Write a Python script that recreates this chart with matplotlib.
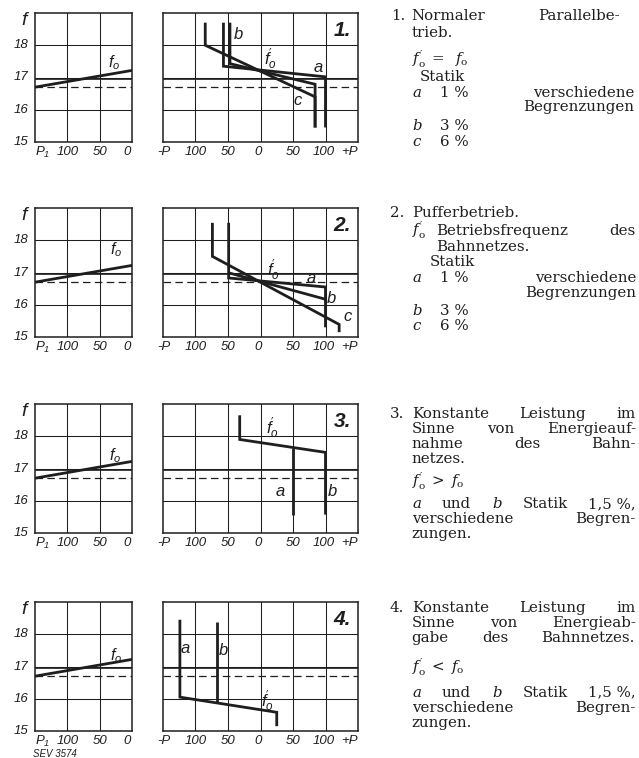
import matplotlib
matplotlib.use("Agg")
import matplotlib.pyplot as plt
import matplotlib.transforms as mtransforms

W, H = 639, 758

plt.rcParams['mathtext.fontset'] = 'custom'
plt.rcParams['mathtext.rm'] = 'DejaVu Serif'
plt.rcParams['mathtext.it'] = 'DejaVu Serif:italic'
plt.rcParams['mathtext.sf'] = 'Liberation Sans:italic'

ink = '#1e1e1e'

# ---- axes values ----
f_grid = [16, 17, 18]
f_ticks = [15, 16, 17, 18]
f_nom = 16.7          # 16 2/3 Hz, dashed

p1_ticks = [150, 100, 50, 0]
p1_labels = [r'$\mathsf{P}_{\mathsf{1}}$', '100', '50', '0']
p_ticks = [-150, -100, -50, 0, 50, 100, 150]
p_labels = ['-P', '100', '50', '0', '50', '100', '+P']

# generator frequency f0 over P1 (same in all four cases)
f0_p1 = [150, 0]
f0_f = [16.7, 17.22]
f0_label = [(28, 17.46), (24, 17.7), (26, 17.39), (24, 17.35)]

# f0' characteristics as (P, f) polylines
case1_p = [[-57, -57, 100, 100], [-47, -47, 84, 84], [-85, -85, 84, 84]]
case1_f = [[18.7, 17.35, 17.02, 15.45], [18.7, 17.43, 16.79, 15.45], [18.7, 18.0, 16.4, 15.45]]
case2_p = [[-49, -49, 100, 100], [-49, 100], [-74, -74, 121, 121]]
case2_f = [[18.54, 16.83, 16.55, 15.3], [16.99, 16.17], [18.54, 17.5, 15.39, 15.15]]
case3_p = [[-32, -32, 100, 100], [50, 50]]
case3_f = [[18.65, 17.9, 17.5, 15.57], [17.65, 15.57]]
case4_p = [[-124, -124, 25, 25], [-67, -67]]
case4_f = [[18.45, 16.05, 15.58, 15.15], [18.37, 15.87]]

curves_p = [case1_p, case2_p, case3_p, case4_p]
curves_f = [case1_f, case2_f, case3_f, case4_f]

fp = r"$\mathsf{f}^{\prime}_{\mathsf{o}}$"
case_labels = [
    [('b', -34, 18.34), (fp, 15, 17.54), ('a', 89, 17.31), ('c', 57, 16.3)],
    [(fp, 19.5, 17.06), ('a', 78.5, 16.8), ('b', 109, 16.2), ('c', 134, 15.63)],
    [(fp, 18, 18.24), ('a', 31, 16.28), ('b', 111, 16.3)],
    [('a', -116, 17.55), ('b', -57, 17.5), (fp, 11, 15.92)],
]
case_numbers = ['1.', '2.', '3.', '4.']

# ---- figure ----
fig = plt.figure(figsize=(W / 100, H / 100), dpi=100)
px = mtransforms.Affine2D().scale(1 / W, -1 / H).translate(0, 1) + fig.transFigure
renderer = fig.canvas.get_renderer()


def box(x, y, w, h):
    return [x / W, 1 - (y + h) / H, w / W, h / H]


def hand(ax, s, xy, coords, off=(0, 0), size=9.5, **kw):
    ax.annotate(s, xy=xy, xycoords=coords, xytext=off, textcoords='offset pixels',
                family='Liberation Sans', style='italic', fontsize=size, color=ink, **kw)


def frame(ax, xlim, xgrid):
    ax.set_xlim(*xlim)
    ax.set_ylim(15, 19)
    ax.set_xticks(xgrid)
    ax.set_yticks(f_grid)
    ax.grid(True, color=ink, lw=0.75)
    ax.axhline(16.94, color=ink, lw=0.6)
    ax.axhline(f_nom, color=ink, lw=0.9, ls=(0, (6, 3.5)))
    ax.tick_params(length=0, labelbottom=False, labelleft=False)
    for s in ax.spines.values():
        s.set_linewidth(1.1)
        s.set_color(ink)


tops = [13, 208, 404, 602]
for i, top in enumerate(tops):
    axl = fig.add_axes(box(35, top, 97, 129))
    axr = fig.add_axes(box(163, top, 195, 129))
    frame(axl, (150, 0), [100, 50])
    frame(axr, (-150, 150), [-100, -50, 0, 50, 100])

    # left: f0 over P1
    axl.plot(f0_p1, f0_f, color=ink, lw=2.0, solid_capstyle='butt')
    hand(axl, r'$\mathsf{f}_{\mathsf{o}}$', f0_label[i], 'data', size=11.5, ha='center', va='center')
    hand(axl, 'f', (0, 18.78), ('axes fraction', 'data'), off=(-11, 0), size=14, ha='center', va='center')
    for v in f_ticks:
        hand(axl, str(v), (0, v), ('axes fraction', 'data'), off=(-7, 0), ha='right', va='center')
    for v, lab in zip(p1_ticks, p1_labels):
        ha = 'left' if v == 150 else ('right' if v == 0 else 'center')
        hand(axl, lab, (v, 0), ('data', 'axes fraction'), off=(0 if v else -1, -10), ha=ha, va='center')

    # right: f0' characteristics
    for cp, cf in zip(curves_p[i], curves_f[i]):
        axr.plot(cp, cf, color=ink, lw=2.0, solid_joinstyle='miter', solid_capstyle='butt')
    for s, x, y in case_labels[i]:
        hand(axr, s, (x, y), 'data', size=12, ha='center', va='center')
    for v, lab in zip(p_ticks, p_labels):
        ha = 'left' if v == -150 else ('right' if v == 150 else 'center')
        off = -6 if v == -150 else (-2 if v in (0, 100) else 0)
        hand(axr, lab, (v, 0), ('data', 'axes fraction'), off=(off, -10), ha=ha, va='center')
    axr.text(0.965, 0.865, case_numbers[i], transform=axr.transAxes, ha='right', va='center',
             family='Liberation Sans', style='italic', weight='bold', fontsize=15, color=ink)

fig.text(33, 749, 'SEV 3574', transform=px, va='top', ha='left', fontsize=7,
         family='Liberation Sans', style='italic', color=ink)

# ---- caption column ----
SIZE = 10.8
serif = dict(family='DejaVu Serif', fontsize=SIZE, color=ink, va='baseline')
fo = r"$f^{\prime}_{\mathrm{o}}$"
L, R = 411.7, 636

notes = [
    (20.5, [(391, 'left', '1.')]),
    (36.7, [(L, 'left', 'trieb.')]),
    (64, [(L, 'left', fo + r"$\;=\;\;f_{\mathrm{o}}$")]),
    (81, [(420, 'left', 'Statik')]),
    (96.7, [(L, 'left', '$a$'), (440, 'left', '1 %'), (634, 'right', 'verschiedene')]),
    (111, [(634, 'right', 'Begrenzungen')]),
    (130, [(L, 'left', '$b$'), (440, 'left', '3 %')]),
    (146, [(L, 'left', '$c$'), (440, 'left', '6 %')]),

    (216.7, [(390, 'left', '2.'), (L, 'left', 'Pufferbetrieb.')]),
    (235, [(L, 'left', fo)]),
    (250.7, [(436, 'left', 'Bahnnetzes.')]),
    (266, [(430, 'left', 'Statik')]),
    (281.7, [(L, 'left', '$a$'), (440, 'left', '1 %'), (R, 'right', 'verschiedene')]),
    (297, [(R, 'right', 'Begrenzungen')]),
    (315, [(L, 'left', '$b$'), (440, 'left', '3 %')]),
    (330, [(L, 'left', '$c$'), (440, 'left', '6 %')]),

    (418.3, [(390, 'left', '3.')]),
    (463.3, [(L, 'left', 'netzes.')]),
    (486, [(L, 'left', fo + r"$\;>\;f_{\mathrm{o}}$")]),
    (538.3, [(L, 'left', 'zungen.')]),

    (611.7, [(390, 'left', '4.')]),
    (672, [(L, 'left', fo + r"$\;<\;f_{\mathrm{o}}$")]),
    (726.7, [(L, 'left', 'zungen.')]),
]

justified = [
    (20.5, L, 620, 'Normaler|Parallelbe-'),
    (235, 436, R, 'Betriebsfrequenz|des'),

    (418.3, L, R, 'Konstante|Leistung|im'),
    (433.3, L, R, 'Sinne|von|Energieauf-'),
    (448.3, L, R, 'nahme|des|Bahn-'),
    (508.3, L, R, '$a$|und|$b$|Statik|1,5 %,'),
    (523.3, L, R, 'verschiedene|Begren-'),

    (611.7, L, R, 'Konstante|Leistung|im'),
    (626.7, L, R, 'Sinne|von|Energieab-'),
    (641.7, L, 635, 'gabe|des|Bahnnetzes.'),
    (696.7, L, R, '$a$|und|$b$|Statik|1,5 %,'),
    (711.7, L, R, 'verschiedene|Begren-'),
]

for y, parts in notes:
    for x, ha, s in parts:
        fig.text(x, y, s, transform=px, ha=ha, **serif)

# spread the words of a line evenly between x0 and x1
for y, x0, x1, line in justified:
    words = line.split('|')
    arts = [fig.text(0, y, w, transform=px, ha='left', **serif) for w in words]
    widths = [a.get_window_extent(renderer).width for a in arts]
    gap = (x1 - x0 - sum(widths)) / (len(arts) - 1)
    x = x0
    for a, w in zip(arts, widths):
        a.set_position((x, y))
        x += w + gap

fig.savefig('out.png', dpi=100, facecolor='white')
